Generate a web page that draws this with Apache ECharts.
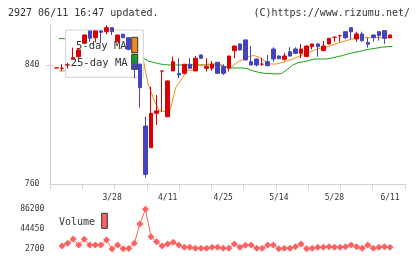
<!DOCTYPE html>
<html><head><meta charset="utf-8">
<script src="https://cdn.jsdelivr.net/npm/echarts@6/dist/echarts.min.js"></script>
<style>html,body{margin:0;padding:0;background:#fff}#c{width:420px;height:259px}</style>
</head><body><div id="c"></div><script>
const dates = ['3/13','3/14','3/15','3/18','3/19','3/21','3/22','3/25','3/26','3/27','3/28','3/29',
 '4/1','4/2','4/3','4/4','4/5','4/8','4/9','4/10','4/11','4/12','4/15','4/16','4/17','4/18','4/19','4/22','4/23','4/24','4/25','4/26','4/30',
 '5/1','5/2','5/7','5/8','5/9','5/10','5/13','5/14','5/15','5/16','5/17','5/20','5/21','5/22','5/23','5/24','5/27','5/28','5/29','5/30','5/31',
 '6/3','6/4','6/5','6/6','6/7','6/10','6/11'];
const open  = [838,837.8,840,843.8,845.6,854.6,862.8,858.3,862.8,862.3,865,855.6,860.6,858.3,840.5,840.5,799.1,784.5,807.6,835.9,805.3,836,834.4,834.4,840.5,836,846.7,837.8,837.8,841.8,838.9,837.8,849.6,854.1,856.8,842.2,844,840.5,842.2,850.7,846,843.8,848.9,850.7,847.8,845.6,852.3,854.1,849.6,854.1,858.55,859.65,862.3,865,857.4,860.8,855,860.1,862.3,863,858.3];
const close = [838.05,837.85,840.05,844.9,850.1,860.1,857.9,862.8,861.9,865,862.3,860.1,858.3,850.5,837.8,824.8,766.7,807.6,809.2,836,829.3,842.2,833.3,840.5,837.8,844.5,844.5,838.9,840.5,834.4,834.4,846,852.7,850.1,843.4,840,840,840.55,839.5,844,844.2,846,846,847.8,850.7,852.7,854.1,852.3,852.7,857.9,858.6,859.7,858.3,862.3,860.8,856.3,853.9,858.3,859.7,857.9,860.1];
const low   = [838,836,837.8,843.8,844.5,854,855.6,855.2,854.6,860.6,860.1,855.4,858,849.8,831.1,811.4,764.4,784.5,799.8,808.7,805,836,831.1,834,837.5,835.8,844,835.6,836,834,833.3,835.5,844.5,849.8,843,839.8,839,839.3,839.3,842.2,844,842.9,845.6,847.3,844.5,845.3,850.5,845.6,849.4,853.9,855.6,855.6,857.4,857.4,855.6,855.6,851.6,855.6,856.3,854.1,858];
const high  = [838,840.5,841.5,851.6,851.2,860.6,862.8,863,863,866.8,865.3,860.3,860.8,858.6,844.5,841,805.3,825.5,819.9,836,829.5,845.6,844.5,840.7,844.5,846,847,844.5,842.7,842,840.5,846.2,853,854.4,857,852.7,844.2,844.9,846.7,851.9,846.3,848.2,851.9,851.9,854.1,853,854.1,854.6,856.1,858,858.6,859.7,862.5,865.2,862.3,862.3,858.3,860.3,862.5,863.2,860.3];
const ma5  = [836,836,837,839,842.2,846.6,850.6,855.2,858.6,861.5,862,862.4,861.5,859.2,853.8,846.3,827.6,817.5,809.2,808.9,809.8,824.9,830,836.3,836.6,839.7,840.1,840.5,840.8,840.4,838.5,838.6,841.6,843.5,845.3,846.4,845.2,842.8,840.7,840.6,841.4,842.6,843.9,845.5,846.9,848.4,850,851.2,852,853.2,854.5,855.5,856.7,857.6,858.3,858.5,858.3,858.4,858.3,858.2,858.3];
const ma25 = [857.7,857.6,857.3,856.9,856.5,856,855.4,854.8,854,853.2,852.3,851.2,849.9,848.4,846.8,845,842.7,841.8,840.8,840.2,840,840,840,840,840,840,840,840,840,840,838.9,838,838,838,837.3,835.9,835,834.4,834.2,834,834.2,836.8,839.8,841.6,842.2,843,844,844,844,844.6,845.5,846.3,847.5,848.3,849,850,850.7,851.2,851.9,852.2,852.5];
const volume = [9000,14700,23700,11100,23100,11100,11100,11100,21600,2700,11100,3000,3500,14700,55300,86200,28600,18000,9000,13200,16800,11100,6300,6300,4200,4200,4200,6300,6300,4200,4200,13200,6300,10500,11100,4200,4200,11100,11100,3200,4200,4200,7500,13200,3000,4200,6300,6300,7500,6300,6300,7500,11100,7500,4200,11100,4200,6300,7500,6300];
const priceTicks = [760, 840];
const volumeTicks = [2700, 44450, 86200];
const dateLabels = ['3/28','4/11','4/25','5/14','5/28','6/11'];

const FONT = '"DejaVu Sans Mono", monospace';
const GRAY = '#d0d0d0';
const L = 53.7, R = 27.2;
const chart = echarts.init(document.getElementById('c'), null, {renderer:'canvas'});
chart.setOption({
  animation: false,
  grid: [
    {left: L, right: R, top: 25, height: 159.3},
    {left: L + 2.5, right: R - 2.5, top: 25, height: 159.3},
    {left: L, right: R, top: 209.3, height: 39.7},
    {left: 50, right: 15, top: 25, height: 159.3}
  ],
  xAxis: [
    {gridIndex:0, type:'category', data:dates, boundaryGap:true,
     axisLine:{show:false}, axisTick:{show:false}, splitLine:{show:false},
     axisLabel:{interval:(i,v)=>dateLabels.includes(v), margin:9.5, fontFamily:FONT, fontSize:8, color:'#333'}},
    {gridIndex:1, type:'category', data:dates, boundaryGap:true, show:false},
    {gridIndex:2, type:'category', data:dates, boundaryGap:true, show:false},
    {gridIndex:3, type:'value', min:0, max:11, interval:1,
     axisLine:{show:true, lineStyle:{color:GRAY}}, axisTick:{show:true, length:5, lineStyle:{color:GRAY}},
     axisLabel:{show:false}, splitLine:{show:false}}
  ],
  yAxis: [
    {gridIndex:0, type:'value', min:760, max:866.8, axisLine:{show:false},
     axisTick:{show:true, length:8, customValues:[840], lineStyle:{color:GRAY}},
     axisLabel:{customValues:priceTicks, margin:14.4, fontFamily:FONT, fontSize:8, color:'#333', formatter:v=>String(v)},
     splitLine:{show:false}},
    {gridIndex:1, type:'value', min:760, max:866.8, show:false},
    {gridIndex:2, type:'value', min:2700, max:86200, axisLine:{show:false}, axisTick:{show:false},
     axisLabel:{customValues:volumeTicks, margin:9.4, fontFamily:FONT, fontSize:8, color:'#333', formatter:v=>String(v)},
     splitLine:{show:false}},
    {gridIndex:3, type:'value', min:0, max:1, axisLine:{show:true, lineStyle:{color:GRAY}},
     axisTick:{show:false}, axisLabel:{show:false}, splitLine:{show:false}}
  ],
  series: [
    {type:'line', xAxisIndex:1, yAxisIndex:1, data:ma25, symbol:'none', z:1,
     lineStyle:{color:'#14a014', width:1}},
    {type:'line', xAxisIndex:1, yAxisIndex:1, data:ma5, symbol:'none', z:1,
     lineStyle:{color:'#f08c10', width:1}},
    {type:'candlestick', xAxisIndex:0, yAxisIndex:0, z:5, barWidth:4,
     data: dates.map((d,i)=>[open[i], close[i], low[i], high[i]]),
     itemStyle:{color:'#d80000', color0:'#4444bf', borderColor:'#d80000', borderColor0:'#4444bf', borderWidth:1}},
    {type:'line', xAxisIndex:2, yAxisIndex:2, data:[null].concat(volume), z:2,
     symbol:'diamond', symbolSize:7, showAllSymbol:true,
     lineStyle:{color:'#ff6060', width:1}, itemStyle:{color:'#ff6060'}}
  ],
  graphic: [
    {type:'text', x:8, y:13, z:10, style:{text:'2927 06/11 16:47 updated.', font:'10px '+FONT, fill:'#333', verticalAlign:'middle'}},
    {type:'text', x:410, y:13, z:10, style:{text:'(C)https://www.rizumu.net/', font:'10px '+FONT, fill:'#333', align:'right', verticalAlign:'middle'}},
    {type:'rect', z:3, shape:{x:65.7, y:30, width:77.6, height:47.3}, style:{fill:'#fff', stroke:GRAY, lineWidth:1}},
    {type:'text', x:76, y:46.7, z:4, style:{text:'5-day MA', font:'10.5px '+FONT, fill:'#333', verticalAlign:'middle'}},
    {type:'text', x:70.7, y:63.3, z:4, style:{text:'25-day MA', font:'10.5px '+FONT, fill:'#333', verticalAlign:'middle'}},
    {type:'rect', z:4, shape:{x:131.7, y:37.3, width:6, height:15.4}, style:{fill:'#f08c1a', stroke:'#333', lineWidth:1}},
    {type:'rect', z:4, shape:{x:131.7, y:54.3, width:6, height:15}, style:{fill:'#13a813', stroke:'#333', lineWidth:1}},
    {type:'text', x:59, y:222.3, z:4, style:{text:'Volume', font:'10px '+FONT, fill:'#333', verticalAlign:'middle'}},
    {type:'rect', z:4, shape:{x:101.7, y:213.3, width:5.6, height:15}, style:{fill:'#ff6060', stroke:'#333', lineWidth:1}}
  ]
});
</script></body></html>
